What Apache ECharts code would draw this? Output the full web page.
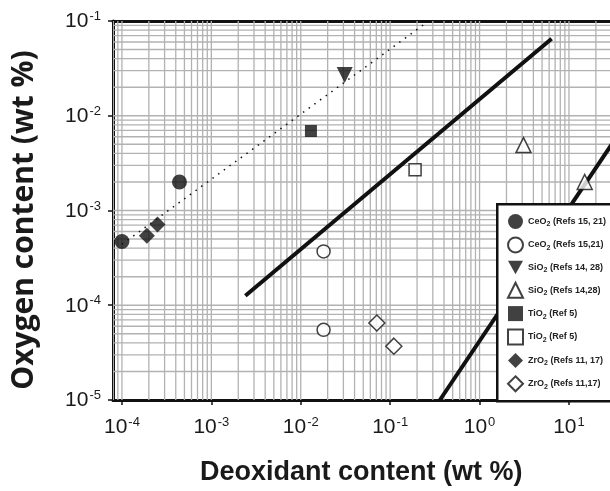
<!DOCTYPE html>
<html>
<head>
<meta charset="utf-8">
<script src="https://cdn.jsdelivr.net/npm/echarts@6/dist/echarts.min.js"></script>
<style>html,body{margin:0;padding:0;background:#fff}#c{width:610px;height:491px}</style>
</head>
<body>
<div id="c"></div>
<script>
// ---- data (wt %) ----
const ceo2Filled = [[1.0e-4, 4.7e-4], [4.4e-4, 2.0e-3]];
const ceo2Open   = [[0.018, 3.7e-4], [0.018, 5.5e-5]];
const sio2Filled = [[0.031, 0.027]];
const sio2Open   = [[3.1, 0.0049], [15, 0.0020]];
const tio2Filled = [[0.013, 0.0069]];
const tio2Open   = [[0.19, 0.0027]];
const zro2Filled = [[1.9e-4, 5.4e-4], [2.5e-4, 7.1e-4]];
const zro2Open   = [[0.071, 6.5e-5], [0.11, 3.7e-5]];
const dottedLine = [[1.0e-4, 4.4e-4], [0.27, 0.1]];
const thickLine1 = [[2.4e-3, 1.26e-4], [6.4, 0.065]];
const thickLine2 = [[0.36, 1.0e-5], [100, 0.027]];

const legendLabels = [
  'CeO{sub|2} (Refs 15, 21)', 'CeO{sub|2} (Refs 15,21)',
  'SiO{sub|2} (Refs 14, 28)', 'SiO{sub|2} (Refs 14,28)',
  'TiO{sub|2} (Ref 5)', 'TiO{sub|2} (Ref 5)',
  'ZrO{sub|2} (Refs 11, 17)', 'ZrO{sub|2} (Refs 11,17)'
];
const seriesKeys = ['CeO2 (Refs 15, 21)', 'CeO2 (Refs 15,21)', 'SiO2 (Refs 14, 28)', 'SiO2 (Refs 14,28)',
  'TiO2 (Ref 5)', 'TiO2 (Ref 5) ', 'ZrO2 (Refs 11, 17)', 'ZrO2 (Refs 11,17)'];
const xTicks = [1e-4, 1e-3, 1e-2, 1e-1, 1, 10];
const yTicks = [1e-5, 1e-4, 1e-3, 1e-2, 1e-1];

// x axis is cut off by the right edge of the picture
const X_MIN = Math.pow(10, -4.1), X_MAX = Math.pow(10, 1.459), Y_MIN = 1e-5, Y_MAX = 0.1;

function gridValues(lo, hi) {
  const out = [];
  for (let n = -6; n <= 3; n++) for (let k = 1; k <= 9; k++) {
    const v = k * Math.pow(10, n);
    if (v > lo * 1.0001 && v < hi * 0.9999) out.push(v);
  }
  return out;
}
const gridX = gridValues(X_MIN, X_MAX);
const gridY = gridValues(Y_MIN, Y_MAX);

function powLabel(v) {
  const l = Math.log10(v), e = Math.round(l);
  if (Math.abs(l - e) > 1e-6) return '';
  return '{b|10}{s|' + e + '}';
}
const labelRich = {
  b: { fontSize: 21, fontFamily: 'Liberation Sans, Arial', color: '#1a1a1a', lineHeight: 22, verticalAlign: 'bottom' },
  s: { fontSize: 13, fontFamily: 'Liberation Sans, Arial', color: '#1a1a1a', lineHeight: 22, verticalAlign: 'top', padding: [0, 0, 0, 1] }
};

const chart = echarts.init(document.getElementById('c'), null, { renderer: 'canvas' });

const filled = { color: '#111', borderColor: '#111', borderWidth: 0 };
const open = { color: '#fff', borderColor: '#111', borderWidth: 1.5 };

function scatter(key, data, symbol, size, style, rotate) {
  return {
    type: 'scatter', name: key, data: data, symbol: symbol, symbolSize: size,
    symbolRotate: rotate || 0, itemStyle: style, z: 5, silent: true
  };
}

function gridLineSeries(values, vertical) {
  return {
    type: 'custom', name: vertical ? 'gx' : 'gy', silent: true, z: 1, clip: true,
    data: values,
    renderItem: function (params, api) {
      const v = api.value(0);
      const a = vertical ? api.coord([v, Y_MIN]) : api.coord([X_MIN, v]);
      const b = vertical ? api.coord([v, Y_MAX]) : api.coord([X_MAX, v]);
      return { type: 'line', shape: { x1: a[0], y1: a[1], x2: b[0], y2: b[1] },
        style: { stroke: '#b2b2b2', lineWidth: 1.3 } };
    },
    encode: vertical ? { x: 0 } : { y: 0 }
  };
}

const legendData = seriesKeys.map(function (k, i) {
  return i === 2 ? { name: k, icon: 'path://M0,0 L10,0 L5,9 Z' } : { name: k };
});

chart.setOption({
  animation: false,
  grid: { left: 113, top: 21, bottom: 91, right: 0, show: false },
  xAxis: [{
    type: 'log', logBase: 10, min: X_MIN, max: X_MAX, position: 'bottom',
    axisLine: { show: true, lineStyle: { color: '#111', width: 3 } },
    axisTick: { show: true, length: 5, inside: false, lineStyle: { color: '#111', width: 1.5 }, customValues: xTicks },
    axisLabel: { customValues: xTicks, formatter: powLabel, rich: labelRich, margin: 16 },
    splitLine: { show: false }, minorSplitLine: { show: false }
  }, {
    type: 'log', logBase: 10, min: X_MIN, max: X_MAX, position: 'top',
    axisLine: { show: true, lineStyle: { color: '#111', width: 3 } },
    axisTick: { show: false }, axisLabel: { show: false }, splitLine: { show: false }
  }],
  yAxis: {
    type: 'log', logBase: 10, min: Y_MIN, max: Y_MAX,
    axisLine: { show: true, lineStyle: { color: '#111', width: 3 } },
    axisTick: { show: true, length: 5, inside: false, lineStyle: { color: '#111', width: 1.5 }, customValues: yTicks },
    axisLabel: { customValues: yTicks, formatter: powLabel, rich: labelRich, margin: 12 },
    splitLine: { show: false }
  },
  legend: {
    orient: 'vertical', left: 496, top: 203, z: 20,
    padding: [11, 20, 13, 11], itemGap: 7.4, itemWidth: 15, itemHeight: 15,
    backgroundColor: 'transparent', borderWidth: 0,
    data: legendData,
    formatter: function (name) { return legendLabels[seriesKeys.indexOf(name)]; },
    textStyle: {
      fontSize: 9, fontWeight: 'bold', fontFamily: 'Liberation Sans, Arial', color: '#222',
      rich: { sub: { fontSize: 7, fontWeight: 'bold', fontFamily: 'Liberation Sans, Arial', color: '#222', verticalAlign: 'bottom', padding: [6, 0, 0, 0] } }
    },
    selectedMode: false
  },
  series: [
    gridLineSeries(gridX, true),
    gridLineSeries(gridY, false),
    { type: 'line', name: 'dots', data: dottedLine, symbol: 'none', silent: true, z: 3,
      lineStyle: { color: '#111', width: 1.5, type: [1.5, 5.5] } },
    { type: 'line', name: 'fit1', data: thickLine1, symbol: 'none', silent: true, z: 3,
      lineStyle: { color: '#111', width: 4 } },
    { type: 'line', name: 'fit2', data: thickLine2, symbol: 'none', silent: true, z: 3,
      lineStyle: { color: '#111', width: 4 } },
    scatter(seriesKeys[0], ceo2Filled, 'circle', 15, filled),
    scatter(seriesKeys[1], ceo2Open, 'circle', 13, open),
    scatter(seriesKeys[2], sio2Filled, 'triangle', 16, filled, 180),
    scatter(seriesKeys[3], sio2Open, 'triangle', 15, open),
    scatter(seriesKeys[4], tio2Filled, 'rect', 12, filled),
    scatter(seriesKeys[5], tio2Open, 'rect', 12, open),
    scatter(seriesKeys[6], zro2Filled, 'diamond', 16, filled),
    scatter(seriesKeys[7], zro2Open, 'diamond', 16, open)
  ],
  graphic: [
    { type: 'rect', left: 496, top: 203, z: 10, silent: true,
      shape: { width: 140, height: 197 },
      style: { fill: '#fff', stroke: '#111', lineWidth: 2.5 } },
    { type: 'text', left: 200, top: 459, z: 10,
      style: { text: 'Deoxidant content (wt %)', font: 'bold 27px "Liberation Sans", Arial', fill: '#1a1a1a' } },
    { type: 'text', x: 24, y: 220, rotation: Math.PI / 2, z: 10,
      style: { text: 'Oxygen content (wt %)', font: 'bold 30px "Open Sans", sans-serif', fill: '#1a1a1a', align: 'center', verticalAlign: 'middle' } }
  ]
});
</script>
</body>
</html>
